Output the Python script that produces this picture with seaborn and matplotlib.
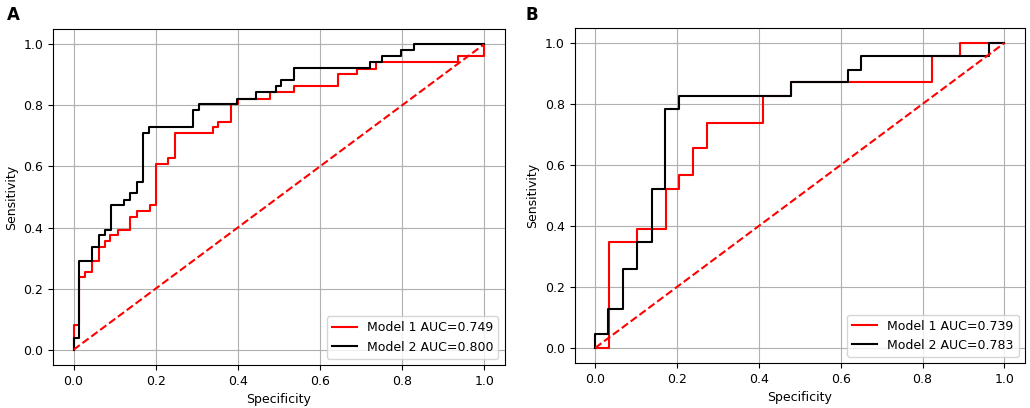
#coding:utf-8
import matplotlib
matplotlib.use('Agg')
import matplotlib.pyplot as plt
import seaborn as sns
import pandas as pd

# panel A, model 1 (red) roc corners
fpr_a1 = [0, 0, 0.014, 0.014, 0.028, 0.028, 0.045, 0.045, 0.061, 0.061, 0.077, 0.077,
          0.089, 0.089, 0.109, 0.109, 0.138, 0.138, 0.154, 0.154, 0.186, 0.186, 0.200, 0.200,
          0.231, 0.231, 0.247, 0.247, 0.339, 0.339, 0.352, 0.352, 0.383, 0.383, 0.400, 0.400,
          0.478, 0.478, 0.536, 0.536, 0.644, 0.644, 0.691, 0.691, 0.737, 0.737, 0.936, 0.936,
          1.0, 1.0]
tpr_a1 = [0, 0.080, 0.080, 0.237, 0.237, 0.254, 0.254, 0.292, 0.292, 0.335, 0.335, 0.355,
          0.355, 0.374, 0.374, 0.392, 0.392, 0.434, 0.434, 0.453, 0.453, 0.474, 0.474, 0.608,
          0.608, 0.627, 0.627, 0.708, 0.708, 0.728, 0.728, 0.744, 0.744, 0.804, 0.804, 0.822,
          0.822, 0.844, 0.844, 0.862, 0.862, 0.902, 0.902, 0.920, 0.920, 0.942, 0.942, 0.962,
          0.962, 1.0]

# panel A, model 2 (black)
fpr_a2 = [0, 0, 0.014, 0.014, 0.045, 0.045, 0.061, 0.061, 0.077, 0.077, 0.091, 0.091,
          0.123, 0.123, 0.138, 0.138, 0.154, 0.154, 0.168, 0.168, 0.184, 0.184, 0.290, 0.290,
          0.306, 0.306, 0.399, 0.399, 0.444, 0.444, 0.492, 0.492, 0.504, 0.504, 0.536, 0.536,
          0.721, 0.721, 0.751, 0.751, 0.798, 0.798, 0.828, 0.828, 1.0]
tpr_a2 = [0, 0.040, 0.040, 0.292, 0.292, 0.335, 0.335, 0.374, 0.374, 0.392, 0.392, 0.474,
          0.474, 0.490, 0.490, 0.512, 0.512, 0.548, 0.548, 0.708, 0.708, 0.728, 0.728, 0.784,
          0.784, 0.804, 0.804, 0.822, 0.822, 0.844, 0.844, 0.862, 0.862, 0.882, 0.882, 0.922,
          0.922, 0.942, 0.942, 0.962, 0.962, 0.981, 0.981, 1.0, 1.0]

# panel B, model 1 (red)
fpr_b1 = [0, 0.034, 0.034, 0.103, 0.103, 0.172, 0.172, 0.205, 0.205, 0.239, 0.239, 0.273,
          0.273, 0.411, 0.411, 0.479, 0.479, 0.822, 0.822, 0.891, 0.891, 1.0]
tpr_b1 = [0, 0, 0.346, 0.346, 0.390, 0.390, 0.521, 0.521, 0.566, 0.566, 0.654, 0.654,
          0.739, 0.739, 0.826, 0.826, 0.871, 0.871, 0.956, 0.956, 1.0, 1.0]

# panel B, model 2 (black)
fpr_b2 = [0, 0, 0.032, 0.032, 0.069, 0.069, 0.101, 0.101, 0.138, 0.138, 0.170, 0.170,
          0.205, 0.205, 0.479, 0.479, 0.617, 0.617, 0.650, 0.650, 0.962, 0.962, 1.0]
tpr_b2 = [0, 0.044, 0.044, 0.129, 0.129, 0.259, 0.259, 0.346, 0.346, 0.521, 0.521, 0.782,
          0.782, 0.826, 0.826, 0.871, 0.871, 0.911, 0.911, 0.956, 0.956, 1.0, 1.0]

auc_a = [0.749, 0.800]
auc_b = [0.739, 0.783]
panel_names = ['A', 'B']

plt.rcParams['font.size'] = 9


def roc_panel(ax, curves, aucs):
    colors = ['red', 'black']
    for i, (fpr, tpr) in enumerate(curves):
        df = pd.DataFrame({'fpr': fpr, 'tpr': tpr})
        sns.lineplot(data=df, x='fpr', y='tpr', ax=ax, sort=False, estimator=None,
                     color=colors[i], lw=1.5,
                     label=f'Model {i + 1} AUC={aucs[i]:.3f}')
    diag = pd.DataFrame({'x': [0, 1], 'y': [0, 1]})
    sns.lineplot(data=diag, x='x', y='y', ax=ax, color='red', ls='--', lw=1.5)
    ax.set_xlim(-0.05, 1.05)
    ax.set_ylim(-0.05, 1.05)
    ax.grid(True, color='#b0b0b0', lw=0.8)
    ax.set_axisbelow(True)
    ax.set_xlabel('Specificity')
    ax.set_ylabel('Sensitivity')
    ax.legend(loc='lower right')


fig = plt.figure(figsize=(10.3, 4.08), dpi=100)
ax_a = fig.add_axes([0.0515, 0.1054, 0.4385, 0.8236])
ax_b = fig.add_axes([0.558, 0.110, 0.437, 0.822])

roc_panel(ax_a, [(fpr_a1, tpr_a1), (fpr_a2, tpr_a2)], auc_a)
roc_panel(ax_b, [(fpr_b1, tpr_b1), (fpr_b2, tpr_b2)], auc_b)

fig.text(0.007, 0.952, panel_names[0], fontsize=12, fontweight='bold')
fig.text(0.510, 0.952, panel_names[1], fontsize=12, fontweight='bold')

plt.savefig('out.png', dpi=100)
